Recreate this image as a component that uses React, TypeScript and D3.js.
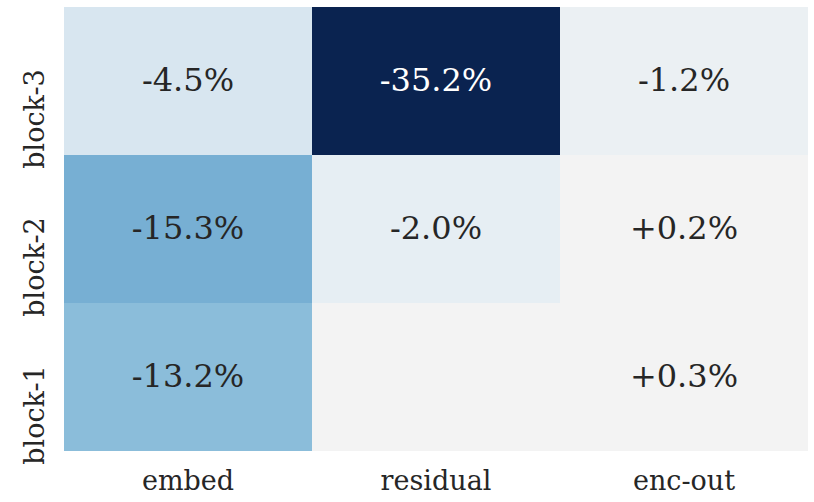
import React from "react";
import * as d3 from "d3";

const rows = ["block-3", "block-2", "block-1"];
const cols = ["embed", "residual", "enc-out"];
// values in percent, row-major (rows top to bottom)
const values: (number | null)[][] = [
  [-4.5, -35.2, -1.2],
  [-15.3, -2.0, 0.2],
  [-13.2, null, 0.3],
];
const colorStops = [-35.2, -15.3, -13.2, -4.5, -2.0, 0];
const colorRange = ["#0a2350", "#77afd3", "#8bbdda", "#d8e6f0", "#e6eef3", "#f3f3f3"];

const W = 814;
const H = 502;

export default function App() {
  const x = d3.scaleBand<string>().domain(cols).range([64, 808]).padding(0);
  const y = d3.scaleBand<string>().domain(rows).range([7, 451]).padding(0);
  const color = d3
    .scaleLinear<string>()
    .domain(colorStops)
    .range(colorRange)
    .interpolate(d3.interpolateRgb)
    .clamp(true);
  const fmt = (v: number) => (v > 0 ? "+" : "") + v.toFixed(1) + "%";
  const font = "'DejaVu Serif', serif";
  return (
    <svg
      width={W}
      height={H}
      style={{ position: "absolute", left: 0, top: 0, background: "#fff" }}
    >
      {values.map((row, i) =>
        row.map((v, j) => (
          <rect
            key={`${i}-${j}`}
            x={x(cols[j])}
            y={y(rows[i])}
            width={x.bandwidth()}
            height={y.bandwidth()}
            fill={v === null ? "#f3f3f3" : color(v)}
          />
        ))
      )}
      {values.map((row, i) =>
        row.map((v, j) =>
          v === null ? null : (
            <text
              key={`t${i}-${j}`}
              x={x(cols[j])! + x.bandwidth() / 2}
              y={y(rows[i])! + y.bandwidth() / 2 - 1}
              dy="0.35em"
              textAnchor="middle"
              fontFamily={font}
              fontSize={32}
              fill={v < -20 ? "#ffffff" : "#262626"}
            >
              {fmt(v)}
            </text>
          )
        )
      )}
      {cols.map((c) => (
        <text
          key={c}
          x={x(c)! + x.bandwidth() / 2}
          y={490}
          textAnchor="middle"
          fontFamily={font}
          fontSize={27}
          fill="#262626"
        >
          {c}
        </text>
      ))}
      {rows.map((r) => (
        <text
          key={r}
          transform={`translate(44,${y(r)! + y.bandwidth() / 2 + 38}) rotate(-90)`}
          textAnchor="middle"
          fontFamily={font}
          fontSize={27}
          fill="#262626"
        >
          {r}
        </text>
      ))}
    </svg>
  );
}
